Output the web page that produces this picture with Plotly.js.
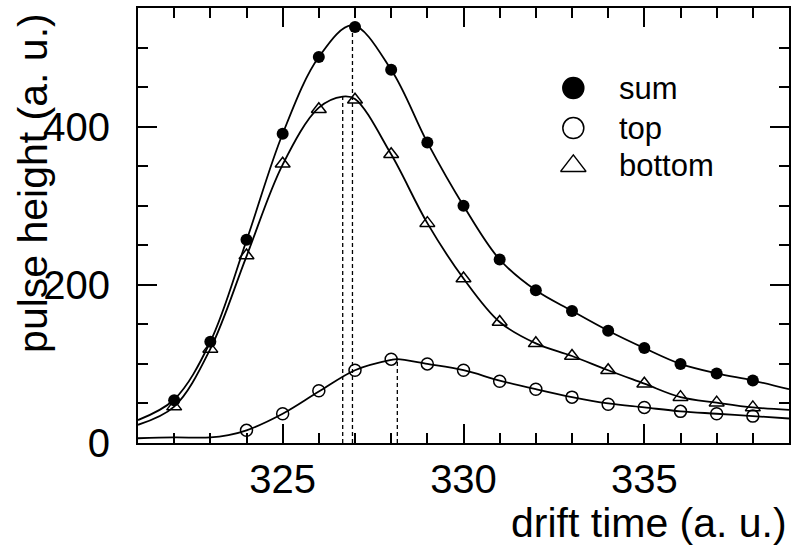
<!DOCTYPE html>
<html><head><meta charset="utf-8">
<script src="https://cdn.plot.ly/plotly-3.0.1.min.js"></script>
<style>html,body{margin:0;padding:0;background:#fff}</style>
</head><body><div id="chart" style="width:791px;height:550px"></div>
<script>
// measured points
const driftTime = [322,323,324,325,326,327,328,329,330,331,332,333,334,335,336,337,338];
const sumHeight = [54,128,257,391,488,526,472,380,300,232,193,167,142,120,100,88,79];
const bottomHeight = [46,119,237,353,422,434,365,278,208,153,126,110,92,75,58,51,45];
const topTime = [324,325,326,327,328,329,330,331,332,333,334,335,336,337,338];
const topHeight = [16,37,66,92,106,100,92,78,68,58,49,45,40,37,34];
// fitted curves
const sumFitTime = [321,322,323,324,325,326,326.93,328,329,330,331,332,333,334,335,336,337,338,339];
const sumFitHeight = [29,55,128,256,391,488,528,472,380,300,232,193,167,142,120,100,88,79,68];
const bottomFitTime = [321,322,323,324,325,326,326.66,327,328,329,330,331,332,333,334,335,336,337,338,339];
const bottomFitHeight = [23,46,119,236,352,424,438,435,365,278,208,153,126,110,92,75,58,51,45,42];
const topFitTime = [321,322,323,323.5,324,325,326,327,328,328.17,329,330,331,332,333,334,335,336,337,338,339];
const topFitHeight = [6,7,7,10,16,37,65,92,105,106,100,92,79,68,58,50,45,40,37,34,31];
// peak positions of the fits
const peakTime = [326.93, 326.66, 328.17];
const peakHeight = [528, 438, 106];
// legend
const seriesNames = ['sum', 'top', 'bottom'];
const seriesSymbols = ['circle', 'circle-open', 'triangle-up-open'];

const ink = '#000';
const traces = [];
[[sumFitTime,sumFitHeight],[bottomFitTime,bottomFitHeight],[topFitTime,topFitHeight]].forEach(([x,y]) => {
  traces.push({x:x, y:y, mode:'lines', type:'scatter', line:{color:ink, width:1.8, shape:'spline', smoothing:1}, showlegend:false, hoverinfo:'skip'});
});
peakTime.forEach((t,i) => {
  traces.push({x:[t,t], y:[0,peakHeight[i]], mode:'lines', type:'scatter', line:{color:ink, width:1.3, dash:'4px,3px'}, showlegend:false, hoverinfo:'skip'});
});
traces.push({x:driftTime, y:sumHeight, name:'sum', mode:'markers', type:'scatter', marker:{symbol:'circle', size:12, color:ink}, showlegend:false});
traces.push({x:topTime, y:topHeight, name:'top', mode:'markers', type:'scatter', marker:{symbol:'circle-open', size:12, color:ink, line:{width:1.5, color:ink}}, showlegend:false});
traces.push({x:driftTime, y:bottomHeight, name:'bottom', mode:'markers', type:'scatter', marker:{symbol:'triangle-up-open', size:13, color:ink, line:{width:1.5, color:ink}}, showlegend:false});

// legend drawn on an overlay axis spanning [0,1]
const legX = 0.6687, legTextX = 0.7364, legY = [0.816, 0.724, 0.637];
const annotations = [];
seriesNames.forEach((n,i) => {
  traces.push({x:[legX], y:[legY[i]], xaxis:'x2', yaxis:'y2', mode:'markers', type:'scatter',
    marker:{symbol:seriesSymbols[i], size: i===2 ? 22 : 21, color:ink, line:{width:1.5, color:ink}}, showlegend:false, hoverinfo:'skip'});
  annotations.push({xref:'paper', yref:'paper', x:legTextX, y:legY[i], xanchor:'left', yanchor:'middle', text:n, showarrow:false, font:{size:31, color:ink}});
});
annotations.push({xref:'paper', yref:'paper', x:1.0, y:-0.185, xanchor:'right', yanchor:'middle', text:'drift time (a. u.)', showarrow:false, font:{size:41, color:ink}});
annotations.push({xref:'paper', yref:'paper', x:(33-138)/650.5, y:(443-183)/435, xanchor:'center', yanchor:'middle', textangle:-90, text:'pulse height (a. u.)', showarrow:false, font:{size:41, color:ink}});

const axBase = {showgrid:false, zeroline:false, showline:true, linecolor:ink, linewidth:2, mirror:'ticks',
  ticks:'inside', ticklen:19, tickwidth:2, tickcolor:ink, tickfont:{size:40, color:ink}};
const layout = {
  width:791, height:550,
  margin:{l:138, r:2, t:8, b:107},
  paper_bgcolor:'#fff', plot_bgcolor:'#fff',
  font:{family:'Liberation Sans, Arial, sans-serif', color:ink},
  showlegend:false,
  xaxis:Object.assign({}, axBase, {range:[321,339], tick0:325, dtick:5, ticklabelstandoff:0,
    minor:{dtick:1, ticks:'inside', ticklen:10, tickwidth:2, tickcolor:ink, showgrid:false}}),
  yaxis:Object.assign({}, axBase, {range:[0,550], tick0:0, dtick:200, ticklabelstandoff:18,
    minor:{dtick:50, ticks:'inside', ticklen:10, tickwidth:2, tickcolor:ink, showgrid:false}}),
  xaxis2:{overlaying:'x', range:[0,1], visible:false, fixedrange:true},
  yaxis2:{overlaying:'y', range:[0,1], visible:false, fixedrange:true},
  annotations:annotations
};
Plotly.newPlot('chart', traces, layout, {displayModeBar:false, staticPlot:true});
</script></body></html>
